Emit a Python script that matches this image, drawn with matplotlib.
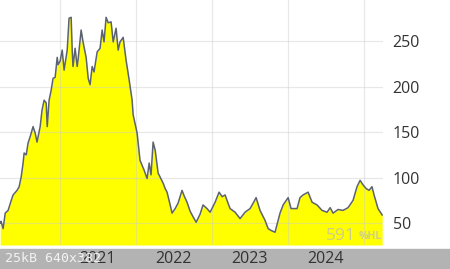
import pandas as pd
import matplotlib.pyplot as plt
from matplotlib.patches import Rectangle


# 价格走势数据
dates = [
    '2020-03-19', '2020-03-23', '2020-04-02', '2020-04-12', '2020-04-26', '2020-05-11',
    '2020-05-20', '2020-06-08', '2020-06-18', '2020-06-28', '2020-07-07', '2020-07-12',
    '2020-07-22', '2020-07-31', '2020-08-10', '2020-08-24', '2020-09-03', '2020-09-12',
    '2020-09-27', '2020-10-06', '2020-10-16', '2020-10-26', '2020-10-31', '2020-11-09',
    '2020-11-19', '2020-11-28', '2020-12-08', '2020-12-18', '2020-12-22', '2021-01-01',
    '2021-01-11', '2021-01-20', '2021-02-04', '2021-02-13', '2021-02-23', '2021-02-28',
    '2021-03-04', '2021-03-14', '2021-03-24', '2021-03-29', '2021-04-12', '2021-04-22',
    '2021-05-06', '2021-05-16', '2021-05-25', '2021-06-04', '2021-06-13', '2021-06-28',
    '2021-07-12', '2021-07-22', '2021-07-31', '2021-08-10', '2021-08-20', '2021-09-03',
    '2021-09-13', '2021-09-27', '2021-10-07', '2021-10-16', '2021-10-31', '2021-11-14',
    '2021-11-29', '2021-12-13', '2021-12-18', '2022-01-06', '2022-01-20', '2022-02-09',
    '2022-02-23', '2022-03-05', '2022-03-14', '2022-03-24', '2022-04-03', '2022-04-17',
    '2022-05-11', '2022-05-21', '2022-05-30', '2022-06-14', '2022-06-23', '2022-07-08',
    '2022-07-22', '2022-08-10', '2022-08-20', '2022-09-03', '2022-09-18', '2022-10-02',
    '2022-10-17', '2022-11-05', '2022-11-19', '2022-12-08', '2022-12-23', '2023-01-16',
    '2023-02-04', '2023-02-19', '2023-03-05', '2023-03-19', '2023-03-29', '2023-04-22',
    '2023-05-16', '2023-06-09', '2023-07-03', '2023-07-18', '2023-08-01', '2023-08-20',
    '2023-09-13', '2023-09-28', '2023-10-12', '2023-10-31', '2023-11-24', '2023-12-09',
    '2024-01-02', '2024-01-16', '2024-02-14', '2024-02-28', '2024-03-14', '2024-04-07',
    '2024-04-26', '2024-05-20', '2024-06-13', '2024-07-07', '2024-07-22', '2024-08-05',
    '2024-08-29', '2024-09-22', '2024-10-16', '2024-11-09', '2024-11-28', '2024-12-13',
    '2024-12-27', '2025-01-11', '2025-01-25', '2025-02-08', '2025-02-18', '2025-03-09',
    '2025-03-29',
]
prices = [
    50, 52, 44, 61, 64, 75,
    81, 86, 90, 101, 116, 127,
    125, 138, 145, 156, 149, 139,
    156, 174, 185, 182, 156, 185,
    196, 209, 210, 232, 224, 228,
    240, 218, 240, 275, 276, 240,
    222, 242, 222, 231, 262, 248,
    232, 209, 202, 222, 216, 238,
    242, 262, 249, 276, 270, 271,
    249, 264, 240, 249, 254, 229,
    207, 185, 169, 149, 119, 108,
    99, 116, 103, 139, 130, 105,
    94, 88, 84, 70, 61, 66,
    72, 86, 80, 73, 63, 57,
    51, 60, 70, 66, 62, 73,
    84, 79, 81, 72, 66, 62,
    55, 62, 66, 72, 78, 64,
    53, 44, 42, 40, 61, 70,
    78, 66, 66, 78, 81, 84,
    73, 70, 64, 62, 67, 61,
    65, 64, 67, 75, 90, 97,
    92, 88, 86, 90, 81, 66,
    59,
]
y_ticks = [50, 100, 150, 200, 250]
year_labels = ['2021', '2022', '2023', '2024']

df = pd.DataFrame({'date': pd.to_datetime(dates), 'price': prices})

fig = plt.figure(figsize=(4.5, 2.69), dpi=100)

# 底部灰色信息条（放在最底层，年份标签画在上面）
fig.add_artist(Rectangle((0, 0), 1, 20 / 269, transform=fig.transFigure,
                         color='#b3b3b3', zorder=-1))

ax = fig.add_axes([0, 24 / 269, 383 / 450, 245 / 269])

y_min, y_max = 26, 295
ax.fill_between(df['date'], df['price'], y_min, color='#ffff00', zorder=1, linewidth=0)
ax.plot(df['date'], df['price'], color='#5b6272', linewidth=1.1, zorder=3)

ax.set_ylim(y_min, y_max)
ax.set_xlim(pd.Timestamp('2020-03-18'), pd.Timestamp('2025-04-02'))

# 网格线在年初，年份标签在年中
year_starts = [pd.Timestamp(f'{y}-01-01') for y in range(2021, 2026)]
ax.set_xticks(year_starts)
ax.set_xticklabels([''] * len(year_starts))
ax.set_xticks([pd.Timestamp(f'{y}-07-02') for y in year_labels], minor=True)
ax.set_xticklabels(year_labels, minor=True)
ax.tick_params(axis='x', which='both', length=0, labelsize=11.5, labelcolor='#333333', pad=4)
ax.grid(axis='x', which='major', color='#cccccc', alpha=0.45, linewidth=0.9, zorder=2)

ax.yaxis.tick_right()
ax.set_yticks(y_ticks)
ax.tick_params(axis='y', length=0, labelsize=11.5, labelcolor='#333333', pad=7)
ax.grid(axis='y', color='#cccccc', alpha=0.45, linewidth=0.9, zorder=2)
ax.set_axisbelow(False)
for s in ax.spines.values():
    s.set_visible(False)
for lab in ax.get_xticklabels(minor=True) + ax.get_yticklabels():
    lab.set_fontfamily('Open Sans')

# 右下角水印
ax.text(0.852, 0.005, '591', transform=ax.transAxes, fontsize=12.5, color='#cdcd8a',
        family='Open Sans', ha='left', va='bottom', zorder=4)
ax.text(0.997, 0.012, '%HL', transform=ax.transAxes, fontsize=7.5, color='#cdcd8a',
        family='Open Sans', fontweight='bold', ha='right', va='bottom', zorder=4)

fig.text(5 / 450, 10 / 269, '25kB 640x382', family='DejaVu Sans Mono', fontsize=9.5,
         color='#f2f2f2', ha='left', va='center', zorder=5)

fig.savefig('out.png', dpi=100)
